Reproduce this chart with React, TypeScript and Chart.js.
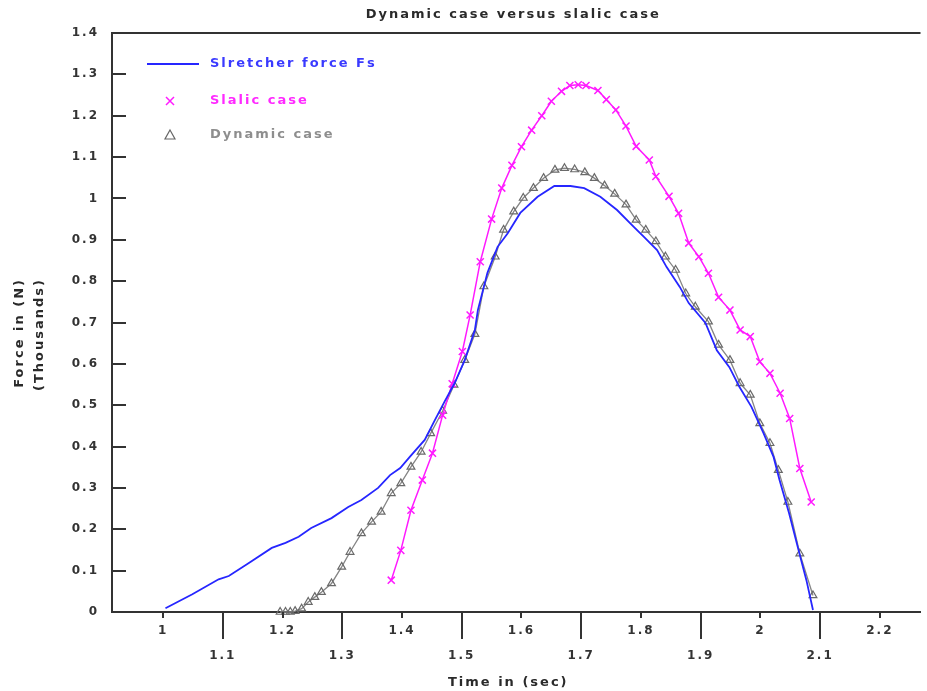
import { useEffect, useRef } from 'react';
import { Chart, registerables } from 'chart.js';

Chart.register(...registerables);

// ---- data ----
const STRETCHER_T = [1.004, 1.049, 1.093, 1.11, 1.143, 1.182, 1.205, 1.227, 1.248, 1.282, 1.31, 1.332, 1.36, 1.38, 1.397, 1.413, 1.438, 1.455, 1.471, 1.488, 1.505, 1.522, 1.527, 1.543, 1.56, 1.577, 1.598, 1.627, 1.655, 1.682, 1.705, 1.732, 1.76, 1.788, 1.805, 1.827, 1.843, 1.865, 1.88, 1.908, 1.927, 1.948, 1.965, 1.985, 2.005, 2.022, 2.032, 2.048, 2.065, 2.077, 2.088];
const STRETCHER_F = [0.009, 0.043, 0.079, 0.087, 0.118, 0.155, 0.167, 0.182, 0.203, 0.227, 0.254, 0.271, 0.3, 0.331, 0.348, 0.375, 0.416, 0.464, 0.508, 0.553, 0.609, 0.682, 0.73, 0.82, 0.883, 0.916, 0.965, 1.004, 1.03, 1.03, 1.025, 1.004, 0.972, 0.931, 0.907, 0.875, 0.834, 0.786, 0.747, 0.699, 0.633, 0.592, 0.544, 0.496, 0.433, 0.375, 0.319, 0.239, 0.143, 0.077, 0.005];

const STATIC_T = [1.382, 1.398, 1.415, 1.434, 1.451, 1.468, 1.484, 1.501, 1.514, 1.531, 1.55, 1.567, 1.584, 1.6, 1.617, 1.634, 1.65, 1.667, 1.681, 1.695, 1.708, 1.728, 1.742, 1.758, 1.775, 1.792, 1.814, 1.825, 1.847, 1.863, 1.88, 1.897, 1.913, 1.93, 1.949, 1.966, 1.983, 1.999, 2.016, 2.033, 2.049, 2.066, 2.085];
const STATIC_F = [0.077, 0.149, 0.246, 0.319, 0.384, 0.476, 0.552, 0.63, 0.718, 0.847, 0.95, 1.025, 1.08, 1.125, 1.165, 1.2, 1.235, 1.259, 1.273, 1.275, 1.273, 1.261, 1.239, 1.214, 1.175, 1.126, 1.093, 1.053, 1.005, 0.964, 0.892, 0.859, 0.819, 0.761, 0.73, 0.682, 0.666, 0.605, 0.577, 0.529, 0.468, 0.347, 0.266];

const DYNAMIC_T = [1.196, 1.205, 1.213, 1.221, 1.232, 1.243, 1.254, 1.265, 1.282, 1.299, 1.313, 1.332, 1.349, 1.365, 1.382, 1.398, 1.415, 1.432, 1.448, 1.468, 1.487, 1.505, 1.522, 1.537, 1.556, 1.57, 1.587, 1.603, 1.62, 1.637, 1.656, 1.672, 1.689, 1.706, 1.722, 1.739, 1.756, 1.775, 1.792, 1.808, 1.825, 1.841, 1.858, 1.875, 1.891, 1.913, 1.93, 1.949, 1.966, 1.983, 1.999, 2.016, 2.03, 2.046, 2.066, 2.088];
const DYNAMIC_F = [0.0, 0.0, 0.0, 0.002, 0.008, 0.024, 0.036, 0.048, 0.069, 0.109, 0.145, 0.19, 0.218, 0.242, 0.287, 0.311, 0.351, 0.387, 0.432, 0.486, 0.549, 0.609, 0.672, 0.787, 0.859, 0.924, 0.968, 1.001, 1.025, 1.049, 1.069, 1.073, 1.07, 1.063, 1.049, 1.031, 1.011, 0.985, 0.948, 0.924, 0.896, 0.859, 0.827, 0.77, 0.738, 0.702, 0.646, 0.609, 0.553, 0.525, 0.456, 0.408, 0.343, 0.266, 0.141, 0.04];

const X_TICKS = [1, 1.1, 1.2, 1.3, 1.4, 1.5, 1.6, 1.7, 1.8, 1.9, 2, 2.1, 2.2];
const Y_TICKS = [0, 0.1, 0.2, 0.3, 0.4, 0.5, 0.6, 0.7, 0.8, 0.9, 1, 1.1, 1.2, 1.3, 1.4];
const X_MIN = 0.9145;
const X_MAX = 2.268;
const Y_MIN = 0;
const Y_MAX = 1.4;

const TITLE = 'Dynamic case versus slalic case';
const X_TITLE = 'Time in (sec)';
const Y_TITLE = ['Force in (N)', '(Thousands)'];
const LEGEND_LABELS = ['Slretcher force Fs', 'Slalic case', 'Dynamic case'];

// ---- styles ----
const FONT = '"DejaVu Sans", sans-serif';
const AXIS_COLOR = '#333333';
const TEXT_COLOR = '#2a2a2a';
const BLUE = '#2626ff';
const MAGENTA = '#ff1aff';
const GREY = '#858585';
const LEGEND_COLORS = ['#3a3aff', '#ff2aff', '#8e8e8e'];

const fmt = (v: number) => String(Math.round(v * 10) / 10);
const pairs = (xs: number[], ys: number[]) => xs.map((x, i) => ({ x, y: ys[i] }));

const decorPlugin = {
  id: 'decor',
  beforeDraw(chart: any) {
    chart.ctx.letterSpacing = '2px';
  },
  afterDraw(chart: any) {
    const { ctx, chartArea, scales } = chart;
    const xs = scales.x;
    const ys = scales.y;
    ctx.save();
    ctx.letterSpacing = '0px';
    ctx.strokeStyle = AXIS_COLOR;
    ctx.lineWidth = 2;
    // top frame line
    ctx.beginPath();
    ctx.moveTo(chartArea.left, chartArea.top);
    ctx.lineTo(chartArea.right, chartArea.top);
    ctx.stroke();
    // x tick marks (alternating length, outward)
    xs.ticks.forEach((t: any, i: number) => {
      const px = Math.round(xs.getPixelForValue(t.value));
      const len = i % 2 === 0 ? 6 : 27;
      ctx.beginPath();
      ctx.moveTo(px, chartArea.bottom);
      ctx.lineTo(px, chartArea.bottom + len);
      ctx.stroke();
    });
    // y tick marks (inward)
    ys.ticks.forEach((t: any) => {
      const py = Math.round(ys.getPixelForValue(t.value));
      ctx.beginPath();
      ctx.moveTo(chartArea.left, py);
      ctx.lineTo(chartArea.left + 14, py);
      ctx.stroke();
    });

    ctx.letterSpacing = '2px';
    // titles
    ctx.fillStyle = TEXT_COLOR;
    ctx.font = `bold 13px ${FONT}`;
    ctx.textAlign = 'center';
    ctx.textBaseline = 'middle';
    const cx = (chartArea.left + chartArea.right) / 2;
    ctx.fillText(TITLE, cx - 3, 15);
    ctx.fillText(X_TITLE, cx - 8, 683);
    // y title (rotated, two lines)
    ctx.save();
    ctx.translate(20, 278);
    ctx.rotate(-Math.PI / 2);
    ctx.textAlign = 'right';
    ctx.fillText(Y_TITLE[0], 0, 0);
    ctx.fillText(Y_TITLE[1], 0, 20);
    ctx.restore();

    // legend inside plot
    const lx = chartArea.left;
    const rows = [64, 101, 135];
    ctx.textAlign = 'left';
    ctx.font = `bold 13px ${FONT}`;
    // row 1: line sample
    ctx.strokeStyle = BLUE;
    ctx.lineWidth = 2;
    ctx.beginPath();
    ctx.moveTo(lx + 35, rows[0]);
    ctx.lineTo(lx + 87, rows[0]);
    ctx.stroke();
    // row 2: cross
    ctx.strokeStyle = MAGENTA;
    ctx.lineWidth = 1.5;
    const mx = lx + 58;
    const r = 4;
    ctx.beginPath();
    ctx.moveTo(mx - r, rows[1] - r);
    ctx.lineTo(mx + r, rows[1] + r);
    ctx.moveTo(mx + r, rows[1] - r);
    ctx.lineTo(mx - r, rows[1] + r);
    ctx.stroke();
    // row 3: triangle
    ctx.strokeStyle = '#666666';
    ctx.lineWidth = 1.2;
    const tx = lx + 58;
    ctx.beginPath();
    ctx.moveTo(tx, rows[2] - 5);
    ctx.lineTo(tx + 5, rows[2] + 4);
    ctx.lineTo(tx - 5, rows[2] + 4);
    ctx.closePath();
    ctx.stroke();
    LEGEND_LABELS.forEach((label, i) => {
      ctx.fillStyle = LEGEND_COLORS[i];
      ctx.fillText(label, lx + 98, rows[i]);
    });
    ctx.restore();
  },
};

export default function App() {
  const canvasRef = useRef<HTMLCanvasElement | null>(null);

  useEffect(() => {
    const canvas = canvasRef.current;
    if (!canvas) return;
    const chart = new Chart(canvas, {
      type: 'line',
      data: {
        datasets: [
          {
            label: LEGEND_LABELS[0],
            data: pairs(STRETCHER_T, STRETCHER_F),
            borderColor: BLUE,
            borderWidth: 1.8,
            pointRadius: 0,
            tension: 0,
            fill: false,
          },
          {
            label: LEGEND_LABELS[1],
            data: pairs(STATIC_T, STATIC_F),
            borderColor: MAGENTA,
            borderWidth: 1.5,
            pointStyle: 'crossRot',
            pointRadius: 5,
            pointBorderWidth: 1.5,
            pointBorderColor: MAGENTA,
            pointBackgroundColor: MAGENTA,
            tension: 0,
            fill: false,
          },
          {
            label: LEGEND_LABELS[2],
            data: pairs(DYNAMIC_T, DYNAMIC_F),
            borderColor: GREY,
            borderWidth: 1.3,
            pointStyle: 'triangle',
            pointRadius: 4.5,
            pointBorderWidth: 1.2,
            pointBorderColor: '#6a6a6a',
            pointBackgroundColor: 'rgba(255,255,255,0)',
            tension: 0,
            fill: false,
            clip: false,
          },
        ],
      },
      options: {
        responsive: false,
        animation: false,
        devicePixelRatio: 1,
        layout: { padding: { top: 33, left: 0, right: 0, bottom: 0 } },
        plugins: {
          legend: { display: false },
          title: { display: false },
          tooltip: { enabled: false },
        },
        scales: {
          x: {
            type: 'linear',
            min: X_MIN,
            max: X_MAX,
            afterBuildTicks: (s: any) => {
              s.ticks = X_TICKS.map((v) => ({ value: v }));
            },
            afterFit: (s: any) => {
              s.height = 79;
            },
            grid: { display: true, drawOnChartArea: false, drawTicks: false },
            border: { display: true, color: AXIS_COLOR, width: 2 },
            ticks: {
              autoSkip: false,
              maxRotation: 0,
              padding: 13,
              color: AXIS_COLOR,
              font: { family: FONT, size: 12, weight: 'bold', lineHeight: 1.04 },
              callback: (v: any, i: number) => (i % 2 === 0 ? fmt(Number(v)) : ['', '', fmt(Number(v))]),
            },
          },
          y: {
            type: 'linear',
            min: Y_MIN,
            max: Y_MAX,
            afterBuildTicks: (s: any) => {
              s.ticks = Y_TICKS.map((v) => ({ value: v }));
            },
            afterFit: (s: any) => {
              s.width = 112;
            },
            grid: { display: true, drawOnChartArea: false, drawTicks: false },
            border: { display: true, color: AXIS_COLOR, width: 2 },
            ticks: {
              padding: 13,
              color: AXIS_COLOR,
              font: { family: FONT, size: 12, weight: 'bold' },
              callback: (v: any) => fmt(Number(v)),
            },
          },
        },
      },
      plugins: [decorPlugin],
    });
    return () => chart.destroy();
  }, []);

  return (
    <div style={{ position: 'fixed', left: 0, top: 0, width: 927, height: 691, background: '#fff' }}>
      <canvas ref={canvasRef} width={927} height={691} style={{ display: 'block' }} />
    </div>
  );
}
